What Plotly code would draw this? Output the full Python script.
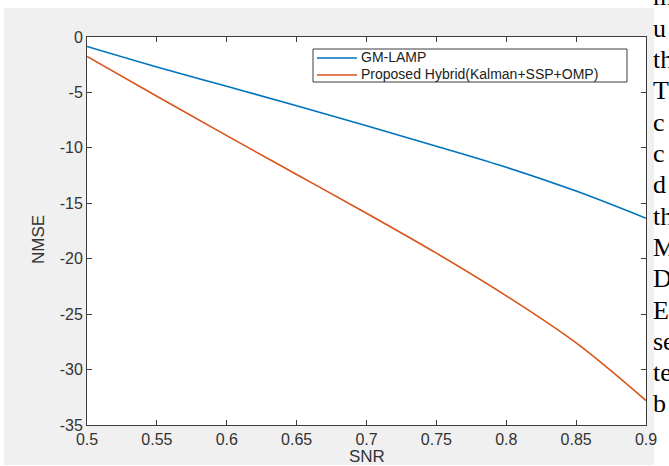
import plotly.graph_objects as go

# ---- data ----
snr = [0.5, 0.55, 0.6, 0.65, 0.7, 0.75, 0.8, 0.85, 0.9]
gm_lamp = [-0.85, -2.7, -4.45, -6.2, -8.0, -9.85, -11.75, -13.9, -16.35]
hybrid = [-1.75, -5.35, -8.9, -12.4, -15.9, -19.5, -23.35, -27.6, -32.8]
series_names = ["GM-LAMP", "Proposed Hybrid(Kalman+SSP+OMP)"]
series_colors = ["#0072BD", "#D95319"]
x_tickvals = [0.5, 0.55, 0.6, 0.65, 0.7, 0.75, 0.8, 0.85, 0.9]
x_ticktext = ["0.5", "0.55", "0.6", "0.65", "0.7", "0.75", "0.8", "0.85", "0.9"]
y_tickvals = [0, -5, -10, -15, -20, -25, -30, -35]
y_ticktext = ["0", "-5", "-10", "-15", "-20", "-25", "-30", "-35"]
side_text = ["m", "u", "th", "T", "c", "c", "d", "th", "M", "D", "E", "se", "te", "b"]

W, H = 669, 466
L, R, T, B = 87, 646, 37, 425  # plot area in pixels
pw, ph = R - L, B - T

def px(x):
    return (x - L) / pw

def py(y):
    return (B - y) / ph

fig = go.Figure()
for name, ys, col in zip(series_names, [gm_lamp, hybrid], series_colors):
    fig.add_trace(go.Scatter(x=snr, y=ys, mode="lines", name=name,
                             line=dict(color=col, width=1.6, shape="spline", smoothing=1.0),
                             showlegend=False))

font = "Liberation Sans, Arial, Helvetica, sans-serif"
axis_common = dict(showline=True, linecolor="#3c3c3c", linewidth=1, mirror="ticks",
                   ticks="inside", ticklen=5, tickcolor="#3c3c3c", tickwidth=1,
                   showgrid=False, zeroline=False,
                   tickfont=dict(family=font, size=16, color="#333333"))
fig.update_xaxes(range=[0.5, 0.9], tickvals=x_tickvals, ticktext=x_ticktext, **axis_common)
fig.update_yaxes(range=[-35, 0], tickvals=y_tickvals, ticktext=y_ticktext, **axis_common)

shapes = []
# white page strips around the gray figure window
shapes.append(dict(type="rect", xref="paper", yref="paper", x0=px(-5), x1=px(W + 5), y0=py(-5), y1=py(8),
                   fillcolor="white", line=dict(width=0), layer="below"))
shapes.append(dict(type="rect", xref="paper", yref="paper", x0=px(-5), x1=px(4), y0=py(-5), y1=py(H + 5),
                   fillcolor="white", line=dict(width=0), layer="below"))
shapes.append(dict(type="rect", xref="paper", yref="paper", x0=px(654), x1=px(W + 5), y0=py(-5), y1=py(H + 5),
                   fillcolor="white", line=dict(width=0), layer="below"))
shapes.append(dict(type="rect", xref="paper", yref="paper", x0=px(-5), x1=px(W + 5), y0=py(465), y1=py(H + 5),
                   fillcolor="white", line=dict(width=0), layer="below"))
# legend box
lg_x0, lg_x1, lg_y0, lg_y1 = 313, 627, 49, 82
shapes.append(dict(type="rect", xref="paper", yref="paper", x0=px(lg_x0), x1=px(lg_x1), y0=py(lg_y1), y1=py(lg_y0),
                   fillcolor="white", line=dict(color="#3c3c3c", width=1), layer="above"))
annotations = []
entry_y = [57, 74]
for name, col, ey in zip(series_names, series_colors, entry_y):
    shapes.append(dict(type="line", xref="paper", yref="paper", x0=px(317), x1=px(357), y0=py(ey + 1), y1=py(ey + 1),
                       line=dict(color=col, width=1.5), layer="above"))
    annotations.append(dict(text=name, xref="paper", yref="paper", x=px(359), y=py(ey),
                            xanchor="left", yanchor="middle", showarrow=False,
                            font=dict(family=font, size=14, color="#222222")))

# axis titles
annotations.append(dict(text="SNR", xref="paper", yref="paper", x=0.5, y=py(456), xanchor="center",
                        yanchor="middle", showarrow=False, font=dict(family=font, size=17, color="#333333")))
annotations.append(dict(text="NMSE", xref="paper", yref="paper", x=px(39), y=py(240), xanchor="center",
                        yanchor="middle", textangle=-90, showarrow=False,
                        font=dict(family=font, size=17, color="#333333")))

# cropped text of the surrounding page column
for i, t in enumerate(side_text):
    baseline = 6 + 31.3 * i
    annotations.append(dict(text=t, xref="paper", yref="paper", x=px(651), y=py(baseline - 9),
                            xanchor="left", yanchor="middle", showarrow=False,
                            font=dict(family="Liberation Serif, Times New Roman, serif", size=26, color="black")))

fig.update_layout(width=W, height=H, margin=dict(l=L, r=W - R, t=T, b=H - B),
                  paper_bgcolor="#f0f0f0", plot_bgcolor="white",
                  shapes=shapes, annotations=annotations, showlegend=False)
fig.write_html("out.html")
